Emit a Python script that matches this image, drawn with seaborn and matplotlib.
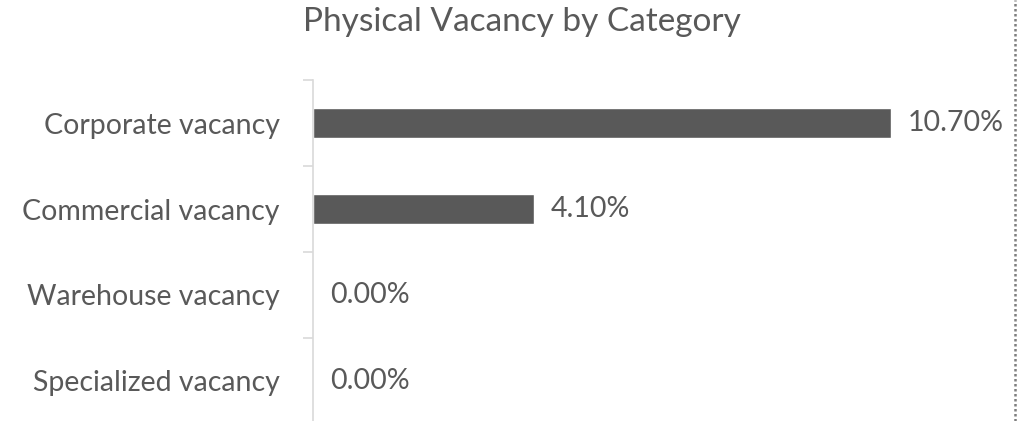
import matplotlib
matplotlib.use("Agg")
from matplotlib import pyplot as plt
from matplotlib.lines import Line2D
import pandas as pd
import seaborn as sns

categories = ["Corporate vacancy", "Commercial vacancy", "Warehouse vacancy", "Specialized vacancy"]
vacancy = [10.70, 4.10, 0.00, 0.00]

TEXT = "#595959"
BAR = "#595959"
GRID = "#d9d9d9"

sns.set_style("white")
plt.rcParams['font.family'] = ['Lato', 'DejaVu Sans']

df = pd.DataFrame({"category": categories, "vacancy": vacancy})

fig = plt.figure(figsize=(10.21, 4.21), dpi=100)
W, H = 1021, 421
ax = fig.add_axes([313 / W, -3 / H, 687 / W, 344 / H])

sns.barplot(data=df, x="vacancy", y="category", orient="h", color=BAR,
            width=0.36, saturation=1, ax=ax)

ax.set_xlim(0, 687 / 54.0)
ax.set_ylim(3.5, -0.5)
ax.set_xlabel("")
ax.set_ylabel("")
ax.set_xticks([])

for s in ["top", "right", "bottom"]:
    ax.spines[s].set_visible(False)
ax.spines["left"].set_color(GRID)
ax.spines["left"].set_linewidth(1.2)

# category boundary ticks
ax.set_yticks([-0.5, 0.5, 1.5, 2.5, 3.5], minor=True)
ax.tick_params(axis="y", which="minor", length=7.5, width=1.2, color=GRID, direction="out", left=True)
ax.tick_params(axis="y", which="major", length=0, pad=24, labelsize=20.5, labelcolor=TEXT)

for c in ax.containers:
    ax.bar_label(c, labels=[f"{v:.2f}%" for v in vacancy], padding=12,
                 fontsize=20.5, color=TEXT)

fig.text(522 / W, 1 - 31 / H, "Physical Vacancy by Category", ha="center",
         va="baseline", fontsize=24, color=TEXT)

# dotted chart border on the right
fig.add_artist(Line2D([1015 / W, 1015 / W], [0, 1], transform=fig.transFigure,
                      color="#7f7f7f", linestyle=(0, (1, 1)), linewidth=1.8))

fig.savefig("out.png", dpi=100)
